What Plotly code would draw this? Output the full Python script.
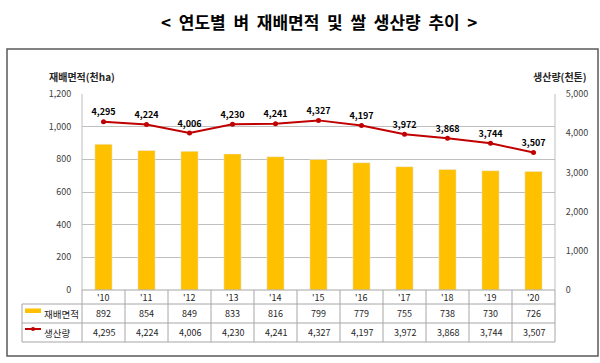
import plotly.graph_objects as go

years = ["'10", "'11", "'12", "'13", "'14", "'15", "'16", "'17", "'18", "'19", "'20"]
area = [892, 854, 849, 833, 816, 799, 779, 755, 738, 730, 726]
production = [4295, 4224, 4006, 4230, 4241, 4327, 4197, 3972, 3868, 3744, 3507]
area_ticks = [0, 200, 400, 600, 800, 1000, 1200]
prod_ticks = [0, 1000, 2000, 3000, 4000, 5000]

W, H = 600, 363
L, R, T, B = 82, 555, 94, 290
FONT = "Noto Sans CJK KR"
YELLOW = "#FFC000"
RED = "#C00000"
GRID = "#BFBFBF"

def px(xp):
    return (xp - L) / (R - L)

def py(yp):
    return (B - yp) / (B - T)

fig = go.Figure()
fig.add_trace(go.Bar(x=years, y=area, marker_color=YELLOW, width=0.4, name="재배면적",
                     showlegend=False))
fig.add_trace(go.Scatter(x=years, y=production, yaxis="y2", mode="lines+markers+text",
                         line=dict(color=RED, width=2), marker=dict(color=RED, size=5),
                         text=[f"{v:,}" for v in production], textposition="top center",
                         textfont=dict(family=FONT, size=9, color="#000000", weight="bold"),
                         name="생산량", showlegend=False, cliponaxis=False))

shapes = []
ann = []

# outer box
shapes.append(dict(type="rect", xref="paper", yref="paper", x0=px(7), x1=px(598), y0=py(356), y1=py(49),
                   line=dict(color="#595959", width=1.5), layer="below"))
# plot area border lines
for xx in [L, R]:
    shapes.append(dict(type="line", xref="paper", yref="paper", x0=px(xx), x1=px(xx), y0=py(B), y1=py(T),
                       line=dict(color=GRID, width=1)))

# table
row_y = [290, 304, 323, 342]
n = len(years)
cw = (R - L) / n
tc = "#A6A6A6"
shapes.append(dict(type="line", xref="paper", yref="paper", x0=px(L), x1=px(R), y0=py(290), y1=py(290),
                   line=dict(color=tc, width=1)))
for yy in row_y[1:]:
    shapes.append(dict(type="line", xref="paper", yref="paper", x0=px(22), x1=px(R), y0=py(yy), y1=py(yy),
                       line=dict(color=tc, width=1)))
shapes.append(dict(type="line", xref="paper", yref="paper", x0=px(22), x1=px(22), y0=py(304), y1=py(342),
                   line=dict(color=tc, width=1)))
for k in range(n + 1):
    xx = L + k * cw
    shapes.append(dict(type="line", xref="paper", yref="paper", x0=px(xx), x1=px(xx), y0=py(290), y1=py(342),
                       line=dict(color=tc, width=1)))

cell_font = dict(family=FONT, size=9, color="#262626")
for i, yr in enumerate(years):
    for yv, txt in [(297, yr), (313.5, f"{area[i]:,}"), (332.5, f"{production[i]:,}")]:
        ann.append(dict(x=yr, xref="x", y=py(yv), yref="paper", text=txt, showarrow=False,
                        xanchor="center", yanchor="middle", font=cell_font))

# legend keys in table
shapes.append(dict(type="rect", xref="paper", yref="paper", x0=px(25), x1=px(41), y0=py(313), y1=py(308.5),
                   fillcolor=YELLOW, line=dict(width=0)))
shapes.append(dict(type="line", xref="paper", yref="paper", x0=px(25), x1=px(41), y0=py(329), y1=py(329),
                   line=dict(color=RED, width=2)))
shapes.append(dict(type="circle", xref="paper", yref="paper", x0=px(31), x1=px(35), y0=py(331), y1=py(327),
                   fillcolor=RED, line=dict(width=0)))
legend_font = dict(family=FONT, size=9.5, color="#262626")
ann.append(dict(x=px(42), xref="paper", y=py(313.5), yref="paper", text="재배면적", showarrow=False,
                xanchor="left", yanchor="middle", font=legend_font))
ann.append(dict(x=px(42), xref="paper", y=py(332.5), yref="paper", text="생산량", showarrow=False,
                xanchor="left", yanchor="middle", font=legend_font))

# title
ann.append(dict(x=0.5, xref="paper", y=py(21), yref="paper", xanchor="center", yanchor="middle",
                showarrow=False,
                text="<  연도별  벼  재배면적  및  쌀  생산량  추이  >",
                font=dict(family=FONT, size=17, color="#000000", weight="bold")))
# axis titles
ann.append(dict(x=px(47), xref="paper", y=py(76), yref="paper", xanchor="left", yanchor="middle",
                showarrow=False,
                text="재배면적(천ha)", font=dict(family=FONT, size=10, color="#262626", weight="bold")))
ann.append(dict(x=px(589), xref="paper", y=py(76), yref="paper", xanchor="right", yanchor="middle",
                showarrow=False,
                text="생산량(천톤)", font=dict(family=FONT, size=10, color="#262626", weight="bold")))

fig.update_layout(
    width=W, height=H,
    margin=dict(l=L, r=W - R, t=T, b=H - B),
    paper_bgcolor="white", plot_bgcolor="white",
    font=dict(family=FONT),
    xaxis=dict(type="category", range=[-0.5, n - 0.5], showticklabels=False, showgrid=False,
               zeroline=False, showline=False, fixedrange=True),
    yaxis=dict(range=[0, 1200], tickvals=area_ticks, ticktext=[f"{v:,}" for v in area_ticks],
               showgrid=True, gridcolor=GRID, gridwidth=1, zeroline=False, showline=False,
               ticks="outside", ticklen=8, tickcolor="rgba(0,0,0,0)",
               tickfont=dict(family=FONT, size=9, color="#404040")),
    yaxis2=dict(range=[0, 5000], tickvals=prod_ticks, ticktext=[f"{v:,}" for v in prod_ticks],
                overlaying="y", side="right", showgrid=False, zeroline=False, showline=False,
                ticks="outside", ticklen=8, tickcolor="rgba(0,0,0,0)",
                tickfont=dict(family=FONT, size=9, color="#404040")),
    shapes=shapes, annotations=ann,
    bargap=0.6,
)

fig.write_html("out.html", post_script="document.body.style.margin='0';document.body.style.padding='0';",
               config={"displayModeBar": False})
